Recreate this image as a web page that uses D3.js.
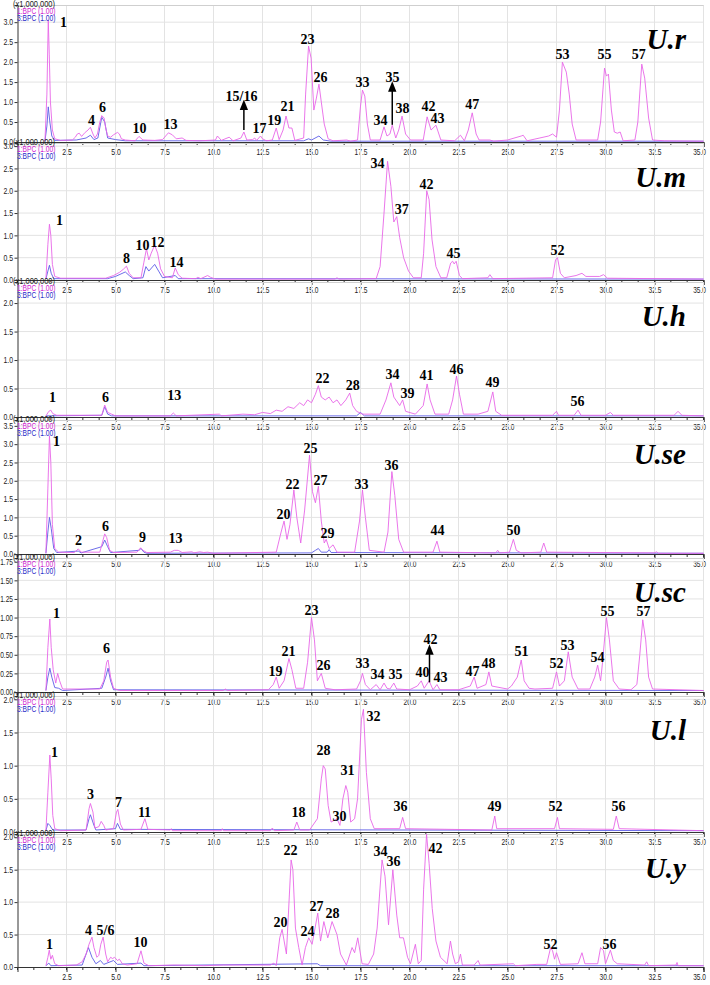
<!DOCTYPE html>
<html><head><meta charset="utf-8">
<script src="https://cdn.jsdelivr.net/npm/d3@7"></script>
<style>
html,body{margin:0;padding:0;background:#fff;}
svg{display:block;}
.tk{font-family:"Liberation Sans",Arial,sans-serif;font-size:8.5px;fill:#222;}
.pk{font-family:"Liberation Serif","Times New Roman",serif;font-weight:bold;font-size:14px;fill:#000;}
.ttl{font-family:"Liberation Serif","Times New Roman",serif;font-weight:bold;font-style:italic;font-size:29px;fill:#000;}
</style>
</head><body>
<svg id="c" width="710" height="985"></svg>
<script>
// ---------------- DATA ----------------
const xTicks = [2.5,5.0,7.5,10.0,12.5,15.0,17.5,20.0,22.5,25.0,27.5,30.0,32.5,35.0];
const panelTitles = ["U.r","U.m","U.h","U.se","U.sc","U.l","U.y"];
const yTicksR = [0,0.5,1.0,1.5,2.0,2.5,3.0];
const yTicksM = [0,0.5,1.0,1.5,2.0,2.5,3.0];
const yTicksH = [0,0.5,1.0,1.5,2.0];
const yTicksSe = [0,0.5,1.0,1.5,2.0,2.5,3.0,3.5];
const yTicksSc = [0,0.25,0.5,0.75,1.0,1.25,1.5,1.75];
const yTicksL = [0,0.5,1.0,1.5,2.0];
const yTicksY = [0,0.5,1.0,1.5,2.0];

// U.r
const urBPC1 = [[1.40,0.02],[1.50,1.2],[1.57,3.05],[1.62,2.2],[1.68,1.0],[1.78,0.3],[1.9,0.08],[2.2,0.04],[2.8,0.05],[2.95,0.12],[3.05,0.2],[3.15,0.22],[3.27,0.14],[3.45,0.24],[3.6,0.3],[3.72,0.37],[3.85,0.2],[3.95,0.1],[4.08,0.2],[4.2,0.5],[4.3,0.66],[4.42,0.6],[4.5,0.35],[4.6,0.15],[4.75,0.12],[4.9,0.18],[5.1,0.24],[5.2,0.2],[5.3,0.08],[5.5,0.05],[6.0,0.03],[6.2,0.14],[6.4,0.05],[7.0,0.04],[7.4,0.06],[7.7,0.23],[7.9,0.18],[8.1,0.08],[8.4,0.1],[8.6,0.04],[9.3,0.03],[10.1,0.05],[10.2,0.15],[10.4,0.04],[10.8,0.12],[11.0,0.03],[11.4,0.1],[11.55,0.25],[11.7,0.05],[12.0,0.06],[12.1,0.1],[12.2,0.04],[12.4,0.15],[12.5,0.08],[12.7,0.03],[13.0,0.05],[13.2,0.35],[13.35,0.06],[13.55,0.3],[13.7,0.65],[13.85,0.35],[14.0,0.35],[14.15,0.04],[14.6,0.1],[14.7,1.2],[14.85,2.4],[14.98,2.1],[15.12,0.8],[15.25,1.1],[15.38,1.45],[15.5,1.0],[15.65,0.45],[15.85,0.08],[16.1,0.03],[16.8,0.05],[17.0,0.02],[17.35,0.05],[17.5,0.9],[17.6,1.3],[17.72,1.15],[17.85,0.45],[18.0,0.05],[18.5,0.05],[18.7,0.38],[18.85,0.15],[19.0,0.2],[19.12,0.42],[19.3,0.1],[19.45,0.3],[19.62,0.65],[19.8,0.2],[20.05,0.05],[20.7,0.05],[20.9,0.63],[21.1,0.3],[21.35,0.42],[21.6,0.05],[22.3,0.03],[22.6,0.17],[22.8,0.03],[23.0,0.3],[23.2,0.73],[23.4,0.2],[23.55,0.05],[24.1,0.05],[24.3,0.02],[25.0,0.05],[25.7,0.15],[25.8,0.17],[26.0,0.03],[27.1,0.15],[27.3,0.2],[27.5,0.12],[27.65,0.8],[27.8,2.0],[28.0,1.75],[28.15,1.2],[28.3,0.45],[28.5,0.05],[29.6,0.05],[29.75,0.5],[29.95,1.85],[30.05,1.65],[30.15,1.7],[30.3,0.8],[30.45,0.25],[30.6,0.22],[30.75,0.25],[30.9,0.03],[31.5,0.05],[31.65,0.5],[31.85,1.95],[32.0,1.6],[32.2,0.6],[32.4,0.05],[33.0,0.03],[35,0.02]];
const urBPC3 = [[1.40,0.02],[1.5,0.4],[1.57,0.88],[1.65,0.5],[1.75,0.15],[1.9,0.04],[3.0,0.05],[3.5,0.1],[3.72,0.17],[3.9,0.06],[4.1,0.1],[4.3,0.62],[4.45,0.5],[4.6,0.1],[5.0,0.06],[5.5,0.03],[14.6,0.03],[14.85,0.08],[15.0,0.05],[15.38,0.15],[15.6,0.05],[16,0.02],[35,0.02]];
const urLabels = [["1",2.35,3.0],["4",3.78,0.53],["6",4.34,0.86],["10",6.22,0.35],["13",7.8,0.45],["15/16",11.43,1.13],["17",12.35,0.35],["19",13.1,0.55],["21",13.78,0.88],["23",14.8,2.57],["26",15.46,1.61],["33",17.6,1.49],["34",18.52,0.55],["35",19.13,1.61],["38",19.64,0.83],["42",20.97,0.88],["43",21.43,0.58],["47",23.2,0.93],["53",27.8,2.19],["55",29.95,2.19],["57",31.7,2.19]];
const urArrows = [[11.55,0.3,0.93],[19.12,0.43,1.39]];

// U.m
const umBPC1 = [[1.45,0.02],[1.55,0.8],[1.63,1.25],[1.7,1.0],[1.78,0.35],[1.9,0.08],[2.2,0.04],[4.5,0.04],[4.9,0.1],[5.2,0.17],[5.4,0.24],[5.56,0.31],[5.7,0.15],[5.9,0.05],[6.3,0.05],[6.45,0.4],[6.58,0.7],[6.7,0.45],[6.82,0.6],[7.0,0.78],[7.15,0.6],[7.3,0.25],[7.5,0.08],[7.9,0.05],[8.05,0.27],[8.2,0.12],[8.4,0.04],[9.1,0.03],[9.2,0.06],[9.35,0.03],[9.7,0.1],[9.85,0.06],[10.1,0.02],[16.2,0.02],[16.3,0.05],[16.4,0.02],[18.3,0.03],[18.5,0.3],[18.7,1.5],[18.88,2.66],[19.05,2.1],[19.2,1.3],[19.35,1.42],[19.5,0.95],[19.7,0.5],[19.95,0.2],[20.2,0.05],[20.6,0.05],[20.72,0.6],[20.88,2.0],[21.0,1.8],[21.15,0.9],[21.35,0.3],[21.6,0.05],[21.9,0.05],[22.1,0.38],[22.2,0.42],[22.28,0.36],[22.38,0.42],[22.55,0.1],[22.7,0.03],[24.0,0.05],[24.1,0.12],[24.25,0.03],[27.3,0.05],[27.45,0.45],[27.55,0.5],[27.7,0.15],[27.9,0.05],[28.5,0.1],[28.8,0.15],[29.0,0.08],[29.7,0.08],[29.9,0.12],[30.1,0.04],[35,0.02]];
const umBPC3 = [[1.45,0.02],[1.55,0.2],[1.63,0.33],[1.72,0.15],[1.85,0.03],[4.6,0.03],[5.0,0.08],[5.5,0.18],[5.7,0.1],[5.9,0.03],[6.4,0.05],[6.55,0.3],[6.7,0.2],[7.0,0.35],[7.2,0.2],[7.4,0.05],[8.05,0.1],[8.2,0.03],[35,0.02]];
const umLabels = [["1",2.14,1.34],["8",5.56,0.49],["10",6.38,0.78],["12",7.14,0.83],["14",8.11,0.4],["34",18.37,2.62],["37",19.6,1.59],["42",20.87,2.15],["45",22.24,0.6],["52",27.55,0.67]];

// U.h
const uhBPC1 = [[1.45,0.02],[1.6,0.1],[1.7,0.12],[1.8,0.06],[2.0,0.03],[4.3,0.03],[4.45,0.21],[4.6,0.08],[4.8,0.05],[5.0,0.02],[7.8,0.02],[7.95,0.07],[8.1,0.02],[10.3,0.05],[10.4,0.02],[11.5,0.05],[12.1,0.04],[12.5,0.08],[12.9,0.06],[13.2,0.12],[13.5,0.1],[13.8,0.18],[14.1,0.15],[14.4,0.25],[14.6,0.2],[14.8,0.3],[15.0,0.25],[15.2,0.4],[15.35,0.55],[15.5,0.35],[15.7,0.3],[15.9,0.35],[16.1,0.25],[16.3,0.3],[16.5,0.2],[16.75,0.3],[16.95,0.42],[17.1,0.2],[17.3,0.1],[17.6,0.05],[18.5,0.05],[18.8,0.3],[19.05,0.6],[19.2,0.35],[19.5,0.2],[19.65,0.3],[19.8,0.1],[20.3,0.05],[20.7,0.2],[20.9,0.58],[21.05,0.3],[21.3,0.05],[22.0,0.05],[22.2,0.3],[22.4,0.72],[22.55,0.4],[22.75,0.05],[23.5,0.05],[24.0,0.1],[24.25,0.44],[24.4,0.1],[24.7,0.03],[27.3,0.03],[27.5,0.1],[27.6,0.03],[28.4,0.03],[28.6,0.12],[28.75,0.03],[30.0,0.03],[30.25,0.08],[30.4,0.03],[33.5,0.03],[33.7,0.1],[33.9,0.03],[35,0.02]];
const uhBPC3 = [[1.45,0.02],[4.3,0.03],[4.45,0.18],[4.6,0.05],[4.8,0.02],[17.3,0.02],[17.5,0.08],[17.7,0.02],[35,0.02]];
const uhLabels = [["1",1.79,0.35],["6",4.49,0.35],["13",8.0,0.37],["22",15.56,0.68],["28",17.1,0.56],["34",19.13,0.74],["39",19.9,0.42],["41",20.87,0.72],["46",22.4,0.84],["49",24.23,0.6],["56",28.57,0.28]];

// U.se
const useBPC1 = [[1.45,0.02],[1.55,1.8],[1.63,3.23],[1.7,2.5],[1.78,0.8],[1.9,0.15],[2.1,0.05],[2.9,0.04],[3.1,0.14],[3.25,0.05],[4.2,0.05],[4.35,0.35],[4.45,0.55],[4.55,0.45],[4.7,0.1],[4.9,0.04],[6.1,0.05],[6.28,0.17],[6.4,0.1],[6.6,0.04],[7.8,0.05],[8.0,0.1],[8.2,0.1],[8.4,0.04],[8.9,0.06],[9.0,0.03],[9.3,0.06],[9.5,0.04],[9.7,0.05],[10.0,0.02],[13.2,0.05],[13.45,0.6],[13.6,0.9],[13.75,0.4],[13.9,0.8],[14.1,1.75],[14.25,1.0],[14.45,0.3],[14.65,1.2],[14.9,2.7],[15.05,1.7],[15.2,1.4],[15.35,1.85],[15.5,0.9],[15.65,0.3],[15.75,0.4],[15.9,0.15],[16.1,0.25],[16.3,0.05],[17.2,0.05],[17.45,0.9],[17.6,1.75],[17.75,1.0],[17.95,0.1],[18.7,0.05],[18.9,0.6],[19.1,2.25],[19.25,1.6],[19.45,0.4],[19.7,0.05],[21.2,0.05],[21.4,0.35],[21.55,0.05],[24.4,0.03],[24.5,0.1],[24.6,0.03],[25.1,0.05],[25.3,0.4],[25.45,0.1],[25.7,0.03],[26.7,0.05],[26.85,0.3],[27.0,0.05],[32.5,0.03],[32.6,0.06],[32.7,0.02],[35,0.02]];
const useBPC3 = [[1.45,0.02],[1.55,0.6],[1.63,1.0],[1.72,0.7],[1.85,0.15],[2.0,0.04],[3.1,0.08],[3.25,0.03],[4.3,0.2],[4.45,0.38],[4.6,0.2],[4.75,0.04],[6.2,0.1],[6.3,0.15],[6.45,0.05],[6.6,0.02],[15.0,0.03],[15.2,0.1],[15.35,0.15],[15.5,0.05],[15.8,0.05],[15.9,0.12],[16.0,0.04],[35,0.02]];
const useLabels = [["1",1.99,3.06],["2",3.11,0.38],["6",4.49,0.74],["9",6.38,0.44],["13",8.06,0.41],["20",13.57,1.07],["22",14.03,1.91],["25",14.95,2.87],["27",15.46,2.0],["29",15.82,0.57],["33",17.55,1.91],["36",19.08,2.41],["44",21.43,0.63],["50",25.3,0.63]];

// U.sc
const uscBPC1 = [[1.45,0.02],[1.55,0.6],[1.65,0.98],[1.72,0.6],[1.82,0.3],[1.95,0.12],[2.05,0.25],[2.15,0.15],[2.3,0.04],[4.2,0.04],[4.4,0.15],[4.55,0.4],[4.62,0.43],[4.75,0.2],[4.9,0.05],[5.2,0.02],[10.5,0.02],[10.6,0.04],[10.7,0.02],[12.8,0.03],[13.05,0.1],[13.2,0.2],[13.35,0.05],[13.6,0.15],[13.85,0.45],[14.0,0.3],[14.2,0.05],[14.6,0.05],[14.8,0.4],[15.0,1.0],[15.15,0.7],[15.3,0.15],[15.5,0.25],[15.7,0.05],[16.2,0.03],[17.3,0.04],[17.5,0.15],[17.6,0.25],[17.75,0.1],[18.0,0.03],[18.3,0.1],[18.5,0.03],[18.7,0.12],[18.85,0.05],[19.0,0.04],[19.2,0.12],[19.35,0.04],[20.0,0.03],[20.4,0.08],[20.6,0.15],[20.75,0.05],[21.0,0.15],[21.2,0.03],[21.4,0.1],[21.55,0.03],[22.5,0.03],[23.1,0.08],[23.3,0.2],[23.45,0.05],[23.9,0.1],[24.05,0.27],[24.2,0.08],[25.0,0.04],[25.2,0.08],[25.5,0.2],[25.7,0.43],[25.85,0.15],[26.1,0.05],[26.4,0.04],[27.3,0.05],[27.5,0.27],[27.65,0.08],[27.9,0.15],[28.1,0.54],[28.3,0.2],[28.6,0.04],[29.2,0.04],[29.45,0.2],[29.6,0.36],[29.75,0.15],[29.85,0.4],[30.05,1.0],[30.2,0.7],[30.4,0.15],[30.7,0.04],[31.3,0.03],[31.6,0.1],[31.75,0.5],[31.9,0.97],[32.05,0.7],[32.2,0.2],[32.4,0.04],[35,0.02]];
const uscBPC3 = [[1.45,0.02],[1.55,0.2],[1.65,0.32],[1.75,0.2],[1.9,0.06],[2.1,0.05],[2.3,0.02],[4.3,0.05],[4.5,0.2],[4.62,0.32],[4.75,0.15],[4.9,0.03],[35,0.02]];
const uscLabels = [["1",1.99,1.06],["6",4.54,0.58],["19",13.16,0.27],["21",13.83,0.54],["23",15.0,1.09],["26",15.61,0.36],["33",17.6,0.38],["34",18.37,0.24],["35",19.29,0.24],["40",20.66,0.26],["42",21.07,0.7],["43",21.58,0.19],["47",23.21,0.27],["48",24.03,0.38],["51",25.71,0.54],["52",27.5,0.38],["53",28.06,0.63],["54",29.59,0.47],["55",30.1,1.08],["57",31.94,1.08]];
const uscArrows = [[21.02,0.13,0.57]];

// U.l
const ulBPC1 = [[1.45,0.02],[1.55,0.6],[1.65,1.16],[1.72,0.8],[1.8,0.25],[1.9,0.05],[2.2,0.02],[3.5,0.03],[3.65,0.35],[3.72,0.43],[3.85,0.3],[3.95,0.06],[4.15,0.08],[4.27,0.16],[4.4,0.1],[4.5,0.03],[4.9,0.05],[5.05,0.3],[5.12,0.34],[5.25,0.12],[5.4,0.03],[6.3,0.04],[6.5,0.2],[6.65,0.04],[7.8,0.03],[7.85,0.05],[7.9,0.02],[10.4,0.02],[10.45,0.05],[10.5,0.02],[12.9,0.02],[13.0,0.06],[13.1,0.02],[14.1,0.03],[14.25,0.15],[14.4,0.03],[14.9,0.03],[15.3,0.2],[15.5,0.8],[15.6,1.0],[15.7,0.95],[15.85,0.4],[16.0,0.15],[16.3,0.2],[16.45,0.1],[16.6,0.5],[16.75,0.7],[16.85,0.6],[17.0,0.15],[17.2,0.2],[17.35,0.5],[17.55,1.7],[17.65,1.85],[17.8,0.9],[18.0,0.2],[18.2,0.05],[19.5,0.05],[19.65,0.22],[19.8,0.05],[24.2,0.03],[24.35,0.24],[24.45,0.05],[27.4,0.05],[27.55,0.22],[27.65,0.05],[30.4,0.04],[30.55,0.24],[30.7,0.05],[35,0.02]];
const ulBPC3 = [[1.45,0.02],[1.55,0.13],[1.65,0.1],[1.8,0.03],[3.5,0.03],[3.65,0.2],[3.72,0.26],[3.9,0.1],[4.0,0.03],[5.0,0.05],[5.1,0.13],[5.25,0.04],[35,0.02]];
const ulLabels = [["1",1.89,1.2],["3",3.72,0.56],["7",5.15,0.45],["11",6.48,0.3],["18",14.34,0.29],["28",15.61,1.23],["30",16.43,0.24],["31",16.84,0.92],["32",18.16,1.74],["36",19.54,0.39],["49",24.34,0.39],["52",27.45,0.39],["56",30.66,0.39]];

// U.y
const uyBPC1 = [[1.45,0.02],[1.55,0.15],[1.62,0.26],[1.7,0.12],[1.78,0.18],[1.9,0.05],[2.1,0.02],[3.0,0.03],[3.3,0.08],[3.5,0.2],[3.65,0.35],[3.8,0.46],[3.9,0.3],[4.05,0.15],[4.15,0.18],[4.25,0.35],[4.37,0.46],[4.5,0.2],[4.6,0.08],[4.75,0.15],[4.85,0.13],[4.95,0.15],[5.1,0.1],[5.2,0.12],[5.35,0.05],[5.6,0.03],[6.1,0.05],[6.3,0.25],[6.45,0.06],[6.7,0.02],[8.0,0.03],[9.5,0.02],[10.5,0.03],[12.9,0.03],[13.08,0.06],[13.2,0.02],[13.38,0.45],[13.5,0.58],[13.72,0.2],[13.96,1.65],[14.05,1.5],[14.18,0.6],[14.35,0.3],[14.52,0.03],[14.69,0.3],[14.86,0.45],[15.03,0.35],[15.32,0.83],[15.46,0.4],[15.63,0.7],[15.83,0.45],[16.05,0.7],[16.3,0.5],[16.48,0.2],[16.78,0.03],[17.07,0.3],[17.2,0.22],[17.36,0.45],[17.58,0.05],[17.9,0.04],[18.17,0.2],[18.35,0.6],[18.6,1.65],[18.75,1.4],[18.93,0.65],[19.15,1.5],[19.35,0.8],[19.5,0.45],[19.69,0.45],[19.9,0.15],[20.05,0.05],[20.3,0.35],[20.45,0.05],[20.6,0.1],[20.72,1.2],[20.87,2.05],[21.0,1.6],[21.16,0.9],[21.35,0.4],[21.58,0.15],[21.92,0.05],[22.09,0.4],[22.2,0.2],[22.34,0.05],[22.5,0.08],[22.6,0.2],[22.7,0.03],[23.3,0.03],[23.5,0.1],[23.6,0.03],[25.3,0.05],[25.4,0.02],[26.5,0.04],[27.0,0.04],[27.2,0.3],[27.3,0.25],[27.4,0.12],[27.5,0.22],[27.7,0.04],[28.6,0.05],[28.8,0.22],[28.95,0.05],[29.6,0.05],[29.75,0.3],[29.9,0.25],[30.0,0.05],[30.25,0.26],[30.4,0.1],[30.6,0.05],[32.0,0.03],[32.1,0.08],[32.2,0.02],[33.6,0.03],[33.65,0.07],[33.7,0.02],[35,0.02]];
const uyBPC3 = [[1.45,0.02],[1.6,0.06],[1.7,0.02],[3.3,0.03],[3.62,0.3],[3.8,0.15],[4.0,0.05],[4.23,0.1],[4.4,0.04],[4.9,0.1],[5.1,0.04],[6.3,0.06],[6.45,0.02],[15.3,0.05],[15.45,0.02],[35,0.02]];
const uyLabels = [["1",1.63,0.35],["4",3.62,0.57],["5/6",4.49,0.57],["10",6.28,0.37],["20",13.42,0.69],["22",13.93,1.8],["24",14.8,0.54],["27",15.26,0.94],["28",16.07,0.83],["34",18.52,1.78],["36",19.18,1.62],["42",21.33,1.83],["52",27.19,0.34],["56",30.2,0.34]];

// ---------------- LAYOUT ----------------
const panels = [
  {title:panelTitles[0], top:5,   base:142, ymax:3.43, ticks:yTicksR,  fmt:".1f", m:urBPC1,  b:urBPC3,  labels:urLabels,  arrows:urArrows},
  {title:panelTitles[1], top:143, base:280, ymax:3.07, ticks:yTicksM,  fmt:".1f", m:umBPC1,  b:umBPC3,  labels:umLabels,  arrows:[]},
  {title:panelTitles[2], top:282, base:417, ymax:2.37, ticks:yTicksH,  fmt:".1f", m:uhBPC1,  b:uhBPC3,  labels:uhLabels,  arrows:[]},
  {title:panelTitles[3], top:420, base:554, ymax:3.66, ticks:yTicksSe, fmt:".1f", m:useBPC1, b:useBPC3, labels:useLabels, arrows:[]},
  {title:panelTitles[4], top:558, base:692, ymax:1.80, ticks:yTicksSc, fmt:".2f", m:uscBPC1, b:uscBPC3, labels:uscLabels, arrows:uscArrows},
  {title:panelTitles[5], top:696, base:832, ymax:2.05, ticks:yTicksL,  fmt:".1f", m:ulBPC1,  b:ulBPC3,  labels:ulLabels,  arrows:[]},
  {title:panelTitles[6], top:834, base:967, ymax:2.05, ticks:yTicksY,  fmt:".1f", m:uyBPC1,  b:uyBPC3,  labels:uyLabels,  arrows:[]}
];

const svg = d3.select("#c");
svg.append("defs").append("marker").attr("id","ah").attr("viewBox","0 0 10 10")
  .attr("refX",5).attr("refY",5).attr("markerWidth",7).attr("markerHeight",9).attr("orient","auto")
  .append("path").attr("d","M0,1 L10,5 L0,9 Z").attr("fill","#000");

const x = d3.scaleLinear().domain([0,35]).range([17.5,703.5]);
const minorTicks = d3.range(0, 35.01, 2.5/3);
const magenta = "#e866e8", blue = "#5c5ce6";
const narrowBy = w => sel => sel.attr("textLength", function(){ return this.textContent.length*w; })
                         .attr("lengthAdjust","spacingAndGlyphs");
const narrow = narrowBy(3.2), narrowHdr = narrowBy(3.5);

panels.forEach(p => {
  const y = d3.scaleLinear().domain([0,p.ymax]).range([p.base,p.top]);
  const g = svg.append("g");
  // grid
  g.selectAll(".vg").data(xTicks).join("line")
    .attr("x1",d=>x(d)).attr("x2",d=>x(d)).attr("y1",p.top).attr("y2",p.base)
    .attr("stroke","#e3e3e3").attr("stroke-width",1);
  g.selectAll(".hg").data(p.ticks.filter(t=>t>0)).join("line")
    .attr("x1",x(0)).attr("x2",x(35)).attr("y1",d=>y(d)).attr("y2",d=>y(d))
    .attr("stroke","#e3e3e3").attr("stroke-width",1);
  g.append("line").attr("x1",x(0)).attr("x2",x(35)).attr("y1",p.top+0.5).attr("y2",p.top+0.5)
    .attr("stroke","#cfcfcf");
  // traces
  const line = d3.line().x(d=>x(d[0])).y(d=>y(d[1]));
  g.append("path").datum(p.b).attr("d",line).attr("fill","none").attr("stroke",blue).attr("stroke-width",0.9);
  g.append("path").datum(p.m).attr("d",line).attr("fill","none").attr("stroke",magenta).attr("stroke-width",0.9);
  // y axis
  const ya = d3.axisLeft(y).tickValues(p.ticks).tickFormat(d3.format(p.fmt)).tickSize(3).tickPadding(1.5);
  const yg = g.append("g").attr("transform",`translate(${x(0)},0)`).call(ya);
  yg.select(".domain").attr("stroke","#333");
  yg.selectAll("line").attr("stroke","#333");
  yg.selectAll("text").attr("class","tk").call(narrow);
  // x axis
  const xa = d3.axisBottom(x).tickValues(xTicks).tickFormat(d3.format(".1f")).tickSize(5).tickPadding(2);
  const xg = g.append("g").attr("transform",`translate(0,${p.base})`).call(xa);
  xg.select(".domain").attr("stroke","#333");
  xg.selectAll("line").attr("stroke","#333");
  xg.selectAll("text").attr("class","tk").call(narrow);
  xg.selectAll(".tick").filter(d=>d===35).select("text").attr("text-anchor","end").attr("dx","2");
  g.selectAll(".mt").data(minorTicks).join("line")
    .attr("x1",d=>x(d)).attr("x2",d=>x(d)).attr("y1",p.base).attr("y2",p.base+3).attr("stroke","#333");
  // header
  g.append("text").attr("class","tk").attr("x",13).attr("y",p.top+2).text("(x1,000,000)").call(narrowHdr);
  g.append("text").attr("class","tk").attr("x",17).attr("y",p.top+9).style("fill","#d020d0").text("1:BPC (1.00)").call(narrow);
  g.append("text").attr("class","tk").attr("x",17).attr("y",p.top+16).style("fill","#2828c8").text("3:BPC (1.00)").call(narrow);
  // arrows
  g.selectAll(".ar").data(p.arrows).join("line")
    .attr("x1",d=>x(d[0])).attr("x2",d=>x(d[0])).attr("y1",d=>y(d[1])).attr("y2",d=>y(d[2]))
    .attr("stroke","#000").attr("stroke-width",1.5).attr("marker-end","url(#ah)");
  // labels
  g.selectAll(".pk").data(p.labels).join("text").attr("class","pk")
    .attr("x",d=>x(d[1])).attr("y",d=>y(d[2])).attr("text-anchor","middle").attr("dominant-baseline","central")
    .text(d=>d[0]);
  g.append("text").attr("class","ttl").attr("x",686).attr("y",p.top+34).attr("text-anchor","end")
    .attr("dominant-baseline","central").text(p.title);
});
</script>
</body></html>
